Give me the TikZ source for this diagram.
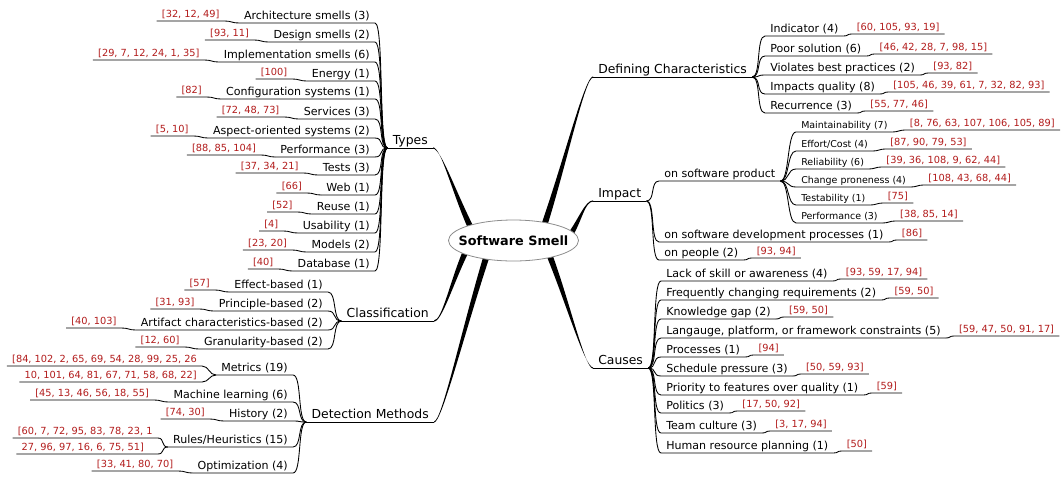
\documentclass[tikz,border=0pt]{standalone}
\usepackage{fontspec}
\setmainfont{DejaVu Sans}
\usetikzlibrary{calc,shapes.geometric}
\definecolor{citered}{RGB}{178,28,28}
\definecolor{rootgray}{RGB}{140,140,140}
\tikzset{
 every node/.style={inner xsep=3.75pt, inner ysep=2.6pt, text depth=0pt},
 brn/.style={font=\fontsize{9.3}{11}\selectfont},
 lvtwo/.style={font=\fontsize{8.3}{10}\selectfont},
 lvthree/.style={font=\fontsize{7.1}{9}\selectfont},
 cite/.style={font=\fontsize{7.35}{9}\selectfont, text=citered},
 conn/.style={draw=black, line width=0.65pt},
 rootshape/.style={draw=rootgray, fill=white, line width=0.6pt},
 roottext/.style={inner sep=0pt, font=\fontsize{9.6}{11}\selectfont\bfseries},
}
\newcommand\mmbranch[3]{%
  \coordinate (mbS) at (#1);
  \coordinate (mbE) at (#2);
  \coordinate (mbA) at ($(mbS)!0.45!(mbE)$);
  \coordinate (mbB) at ([shift={({-8*(#3)},0)}]mbE);
  \fill ([shift={(-3.2,0)}]mbS) .. controls ([shift={(-1.9,0)}]mbA) and ([shift={(0,-0.6)}]mbB) .. ([shift={(0,-0.6)}]mbE)
     -- ([shift={(0,0.6)}]mbE) .. controls ([shift={(0,0.6)}]mbB) and ([shift={(1.9,0)}]mbA) .. ([shift={(3.2,0)}]mbS) -- cycle;
}
\newcommand\rfan[2]{\draw[conn] (#1.south east) .. controls +(9,0) and +(-9,0) .. (#2.south west) -- (#2.south east);}
\newcommand\rcit[2]{\draw[conn] (#1.south east) .. controls +(5,0) and +(-5,0) .. (#2.south west) -- (#2.south east);}
\newcommand\lfan[2]{\draw[conn] (#1.south west) .. controls +(-9,0) and +(9,0) .. (#2.south east) -- (#2.south west);}
\newcommand\lcit[2]{\draw[conn] (#1.south west) .. controls +(-7,0) and +(7,0) .. (#2.south east) -- (#2.south west);}
\newcommand\ritem[6]{%
  \node[#2,anchor=south west] (#1) at (#3) {#4};
  \node[cite,anchor=south west] (#1c) at ([shift={(#6,-2)}]#1.south east) {#5};
  \rcit{#1}{#1c}}
\newcommand\litem[5]{%
  \node[#2,anchor=south east] (#1) at (#3) {#4};
  \node[cite,anchor=south east] (#1c) at ([shift={(-14,-2)}]#1.south west) {#5};
  \lcit{#1}{#1c}}
\begin{document}
\begin{tikzpicture}[x=0.75pt,y=-0.75pt]
\useasboundingbox (0,0) rectangle (1064,476);

% ---------- right: Defining Characteristics
\node[brn,anchor=south west] (dc) at (593,77) {Defining Characteristics};
\ritem{dcA}{lvtwo}{765,36}{Indicator (4)}{[60, 105, 93, 19]}{8}
\ritem{dcB}{lvtwo}{765,56}{Poor solution (6)}{[46, 42, 28, 7, 98, 15]}{8}
\ritem{dcC}{lvtwo}{765,75}{Violates best practices (2)}{[93, 82]}{8}
\ritem{dcD}{lvtwo}{765,94}{Impacts quality (8)}{[105, 46, 39, 61, 7, 32, 82, 93]}{8}
\ritem{dcE}{lvtwo}{765,113}{Recurrence (3)}{[55, 77, 46]}{8}
\foreach \n in {dcA,dcB,dcC,dcD,dcE}{\rfan{dc}{\n}}

% ---------- right: Impact
\node[brn,anchor=south west] (imp) at (593,201) {Impact};
\node[lvtwo,anchor=south west] (osp) at (659,181) {on software product};
\ritem{mA}{lvthree}{796,132}{Maintainability (7)}{[8, 76, 63, 107, 106, 105, 89]}{12}
\ritem{mB}{lvthree}{796,151}{Effort/Cost (4)}{[87, 90, 79, 53]}{12}
\ritem{mC}{lvthree}{796,169}{Reliability (6)}{[39, 36, 108, 9, 62, 44]}{12}
\ritem{mD}{lvthree}{796,187}{Change proneness (4)}{[108, 43, 68, 44]}{12}
\ritem{mE}{lvthree}{796,205}{Testability (1)}{[75]}{12}
\ritem{mF}{lvthree}{796,223}{Performance (3)}{[38, 85, 14]}{12}
\foreach \n in {mA,mB,mC,mD,mE,mF}{\rfan{osp}{\n}}
\ritem{osd}{lvtwo}{659,242}{on software development processes (1)}{[86]}{8}
\ritem{opp}{lvtwo}{659,260}{on people (2)}{[93, 94]}{8}
\foreach \n in {osp,osd,opp}{\rfan{imp}{\n}}

% ---------- right: Causes
\node[brn,anchor=south west] (causes) at (593,368) {Causes};
\ritem{cA}{lvtwo}{661,281}{Lack of skill or awareness (4)}{[93, 59, 17, 94]}{8}
\ritem{cB}{lvtwo}{661,300}{Frequently changing requirements (2)}{[59, 50]}{8}
\ritem{cC}{lvtwo}{661,319}{Knowledge gap (2)}{[59, 50]}{8}
\ritem{cD}{lvtwo}{661,338}{Langauge, platform, or framework constraints (5)}{[59, 47, 50, 91, 17]}{8}
\ritem{cE}{lvtwo}{661,357}{Processes (1)}{[94]}{8}
\ritem{cF}{lvtwo}{661,376}{Schedule pressure (3)}{[50, 59, 93]}{8}
\ritem{cG}{lvtwo}{661,395}{Priority to features over quality (1)}{[59]}{8}
\ritem{cH}{lvtwo}{661,413}{Politics (3)}{[17, 50, 92]}{8}
\ritem{cI}{lvtwo}{661,433}{Team culture (3)}{[3, 17, 94]}{8}
\ritem{cJ}{lvtwo}{661,453}{Human resource planning (1)}{[50]}{8}
\foreach \n in {cA,cB,cC,cD,cE,cF,cG,cH,cI,cJ}{\rfan{causes}{\n}}

% ---------- left: Types
\node[brn,anchor=south east] (types) at (433,148) {Types};
\litem{tA}{lvtwo}{375,23}{Architecture smells (3)}{[32, 12, 49]}
\litem{tB}{lvtwo}{375,42}{Design smells (2)}{[93, 11]}
\litem{tC}{lvtwo}{375,62}{Implementation smells (6)}{[29, 7, 12, 24, 1, 35]}
\litem{tD}{lvtwo}{375,81}{Energy (1)}{[100]}
\litem{tE}{lvtwo}{375,99}{Configuration systems (1)}{[82]}
\litem{tF}{lvtwo}{375,119}{Services (3)}{[72, 48, 73]}
\litem{tG}{lvtwo}{375,138}{Aspect-oriented systems (2)}{[5, 10]}
\litem{tH}{lvtwo}{375,157}{Performance (3)}{[88, 85, 104]}
\litem{tI}{lvtwo}{375,175}{Tests (3)}{[37, 34, 21]}
\litem{tJ}{lvtwo}{375,195}{Web (1)}{[66]}
\litem{tK}{lvtwo}{375,214}{Reuse (1)}{[52]}
\litem{tL}{lvtwo}{375,233}{Usability (1)}{[4]}
\litem{tM}{lvtwo}{375,252}{Models (2)}{[23, 20]}
\litem{tN}{lvtwo}{375,271}{Database (1)}{[40]}
\foreach \n in {tA,tB,tC,tD,tE,tF,tG,tH,tI,tJ,tK,tL,tM,tN}{\lfan{types}{\n}}

% ---------- left: Classification
\node[brn,anchor=south east] (cls) at (434,321) {Classification};
\litem{kA}{lvtwo}{328,292}{Effect-based (1)}{[57]}
\litem{kB}{lvtwo}{328,311}{Principle-based (2)}{[31, 93]}
\litem{kC}{lvtwo}{328,330}{Artifact characteristics-based (2)}{[40, 103]}
\litem{kD}{lvtwo}{328,349}{Granularity-based (2)}{[12, 60]}
\foreach \n in {kA,kB,kC,kD}{\lfan{cls}{\n}}

% ---------- left: Detection Methods
\node[brn,anchor=south east] (det) at (434,422) {Detection Methods};
\node[lvtwo,anchor=south east] (dA) at (293,375) {Metrics (19)};
\node[cite,anchor=south east] (dAa) at ([shift={(-14,-9)}]dA.south west) {[84, 102, 2, 65, 69, 54, 28, 99, 25, 26};
\node[cite,anchor=south east] (dAb) at ([shift={(-14,7)}]dA.south west) {10, 101, 64, 81, 67, 71, 58, 68, 22]};
\lcit{dA}{dAa}
\lcit{dA}{dAb}
\litem{dB}{lvtwo}{293,402}{Machine learning (6)}{[45, 13, 46, 56, 18, 55]}
\litem{dC}{lvtwo}{293,421}{History (2)}{[74, 30]}
\node[lvtwo,anchor=south east] (dD) at (293,447) {Rules/Heuristics (15)};
\node[cite,anchor=south east] (dDa) at ([shift={(-10,-9)}]dD.south west) {[60, 7, 72, 95, 83, 78, 23, 1};
\node[cite,anchor=south east] (dDb) at ([shift={(-10,7)}]dD.south west) {27, 96, 97, 16, 6, 75, 51]\hspace*{6.5pt}};
\lcit{dD}{dDa}
\lcit{dD}{dDb}
\litem{dE}{lvtwo}{293,473}{Optimization (4)}{[33, 41, 80, 70]}
\foreach \n in {dA,dB,dC,dD,dE}{\lfan{det}{\n}}

% ---------- main branches
\mmbranch{471,228}{types.south east}{-1}
\mmbranch{544,226}{dc.south west}{1}
\mmbranch{570,235}{imp.south west}{1}
\mmbranch{549,254}{causes.south west}{1}
\mmbranch{466,251}{cls.south east}{-1}
\mmbranch{487,255}{det.south east}{-1}
\foreach \n in {types,dc,imp,causes,cls,det}{\draw[conn] (\n.south west) -- (\n.south east);}

% ---------- root
\coordinate (rootc) at (513.5,240.5);
\path[rootshape] (rootc) ellipse [x radius=65, y radius=20.5];
\node[roottext] (root) at (rootc) {Software Smell};
\end{tikzpicture}
\end{document}
